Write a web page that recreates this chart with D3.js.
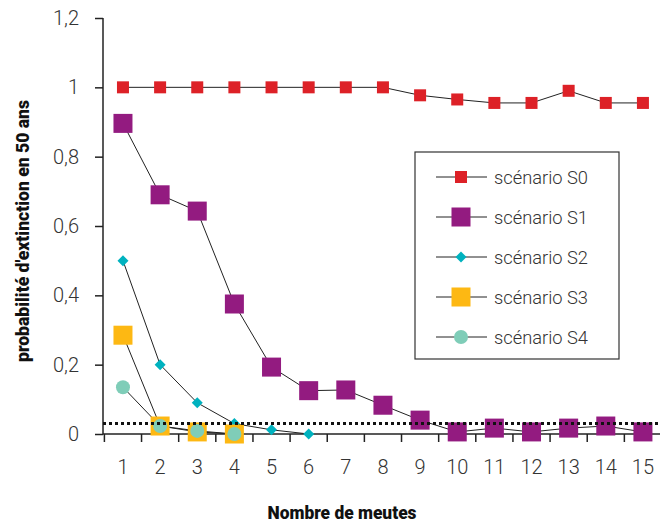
<!DOCTYPE html>
<html><head><meta charset="utf-8">
<script src="https://cdn.jsdelivr.net/npm/d3@7"></script>
<style>
html,body{margin:0;padding:0;background:#fff;}
svg{display:block;}
</style></head>
<body>
<svg id="chart" width="660" height="524"></svg>
<script>
const categories = [1,2,3,4,5,6,7,8,9,10,11,12,13,14,15];
const yTicks = [0,0.2,0.4,0.6,0.8,1,1.2];
const s0 = [1,1,1,1,1,1,1,1,0.977,0.965,0.955,0.955,0.99,0.955,0.955];
const s1 = [0.896,0.69,0.643,0.375,0.193,0.125,0.127,0.083,0.04,0.006,0.017,0.006,0.017,0.023,0.006];
const s2 = [0.5,0.2,0.09,0.03,0.012,0];
const s3 = [0.285,0.023,0.006,0];
const s4 = [0.135,0.023,0.009,0];
const threshold = 0.03;
const seriesNames = ["scénario S0","scénario S1","scénario S2","scénario S3","scénario S4"];

(function(){
const series = [
  {name: seriesNames[0], values: s0, color: "#dd2127", shape: "square", size: 12},
  {name: seriesNames[1], values: s1, color: "#931b80", shape: "square", size: 19},
  {name: seriesNames[2], values: s2, color: "#00b2bf", shape: "diamond", size: 10},
  {name: seriesNames[3], values: s3, color: "#fdb813", shape: "square", size: 19},
  {name: seriesNames[4], values: s4, color: "#7fcdb8", shape: "circle", size: 14}
];

const svg = d3.select("#chart");
const FONT = "Roboto, 'DejaVu Sans', sans-serif";
const mLeft = 103, mTop = 18, mBottom = 434;

const x = d3.scaleBand().domain(categories).range([104.4, 661.5]);
const y = d3.scaleLinear().domain([0, 1.2]).range([mBottom, mTop]);
const cx = d => x(d) + x.bandwidth()/2;

// Y axis
const yAxis = svg.append("g").attr("transform", `translate(${mLeft},0)`)
  .call(d3.axisLeft(y).tickValues(yTicks).tickSize(8).tickPadding(16)
    .tickFormat(d => d3.format(".1~f")(d).replace(".", ",")));
yAxis.select(".domain").attr("stroke", "#222").attr("stroke-width", 1.5).attr("d", `M0,${mTop}V${mBottom}`);
yAxis.selectAll(".tick line").attr("stroke", "#222").attr("stroke-width", 1.5);
yAxis.selectAll(".tick text").attr("font-family", FONT).attr("font-size", 20).attr("fill", "#333").attr("font-weight", 300);

// X axis
const xAxis = svg.append("g").attr("transform", `translate(0,${mBottom})`)
  .call(d3.axisBottom(x).tickSize(0).tickPadding(26));
xAxis.select(".domain").attr("stroke", "#222").attr("stroke-width", 1.5).attr("d", `M${mLeft},0H660`);
xAxis.selectAll(".tick text").attr("font-family", FONT).attr("font-size", 20).attr("fill", "#333").attr("font-weight", 300);
xAxis.selectAll(".sep").data(categories).enter().append("line")
  .attr("x1", d => x(d)).attr("x2", d => x(d))
  .attr("y1", 0).attr("y2", 8).attr("stroke", "#222").attr("stroke-width", 1.5);

// series
const line = d3.line().x((d,i) => cx(categories[i])).y(d => y(d));
function marker(g, shape, size, color) {
  if (shape === "square") {
    g.append("rect").attr("x", -size/2).attr("y", -size/2).attr("width", size).attr("height", size).attr("fill", color);
  } else if (shape === "diamond") {
    const h = size/2 + 0.5;
    g.append("path").attr("d", `M0,${-h}L${h},0L0,${h}L${-h},0Z`).attr("fill", color);
  } else {
    g.append("circle").attr("r", size/2).attr("fill", color);
  }
}
series.forEach(s => {
  svg.append("path").datum(s.values).attr("d", line).attr("fill", "none").attr("stroke", "#222").attr("stroke-width", 1);
});
series.forEach(s => {
  s.values.forEach((v,i) => {
    const g = svg.append("g").attr("transform", `translate(${cx(categories[i])},${y(v)})`);
    marker(g, s.shape, s.size, s.color);
  });
});

// threshold dotted line
svg.append("line").attr("x1", mLeft).attr("x2", 660).attr("y1", y(threshold)).attr("y2", y(threshold))
  .attr("stroke", "#111").attr("stroke-width", 3).attr("stroke-dasharray", "3,3");

// Legend
const lg = svg.append("g");
lg.append("rect").attr("x", 415).attr("y", 152).attr("width", 204).attr("height", 207)
  .attr("fill", "#fff").attr("stroke", "#333").attr("stroke-width", 1.2);
series.forEach((s,i) => {
  const yy = 177 + i*40;
  lg.append("line").attr("x1", 436).attr("x2", 487).attr("y1", yy).attr("y2", yy).attr("stroke", "#222").attr("stroke-width", 1);
  const g = lg.append("g").attr("transform", `translate(461,${yy})`);
  marker(g, s.shape, s.size, s.color);
  lg.append("text").attr("x", 494).attr("y", yy).attr("dy", "0.35em")
    .attr("font-family", FONT).attr("font-size", 19).attr("font-weight", 300).attr("fill", "#333")
    .attr("textLength", 94).attr("lengthAdjust", "spacingAndGlyphs").text(s.name);
});

// Axis titles
svg.append("text").attr("transform", "translate(29,231) rotate(-90)").attr("text-anchor", "middle")
  .attr("font-family", FONT).attr("font-weight", 900).attr("font-size", 17.5).attr("fill", "#111")
  .attr("textLength", 262).attr("lengthAdjust", "spacingAndGlyphs")
  .text("probabilité d'extinction en 50 ans");
svg.append("text").attr("x", 342).attr("y", 519).attr("text-anchor", "middle")
  .attr("font-family", FONT).attr("font-weight", 900).attr("font-size", 19).attr("fill", "#111")
  .attr("textLength", 149).attr("lengthAdjust", "spacingAndGlyphs")
  .text("Nombre de meutes");
})();
</script>
</body></html>
